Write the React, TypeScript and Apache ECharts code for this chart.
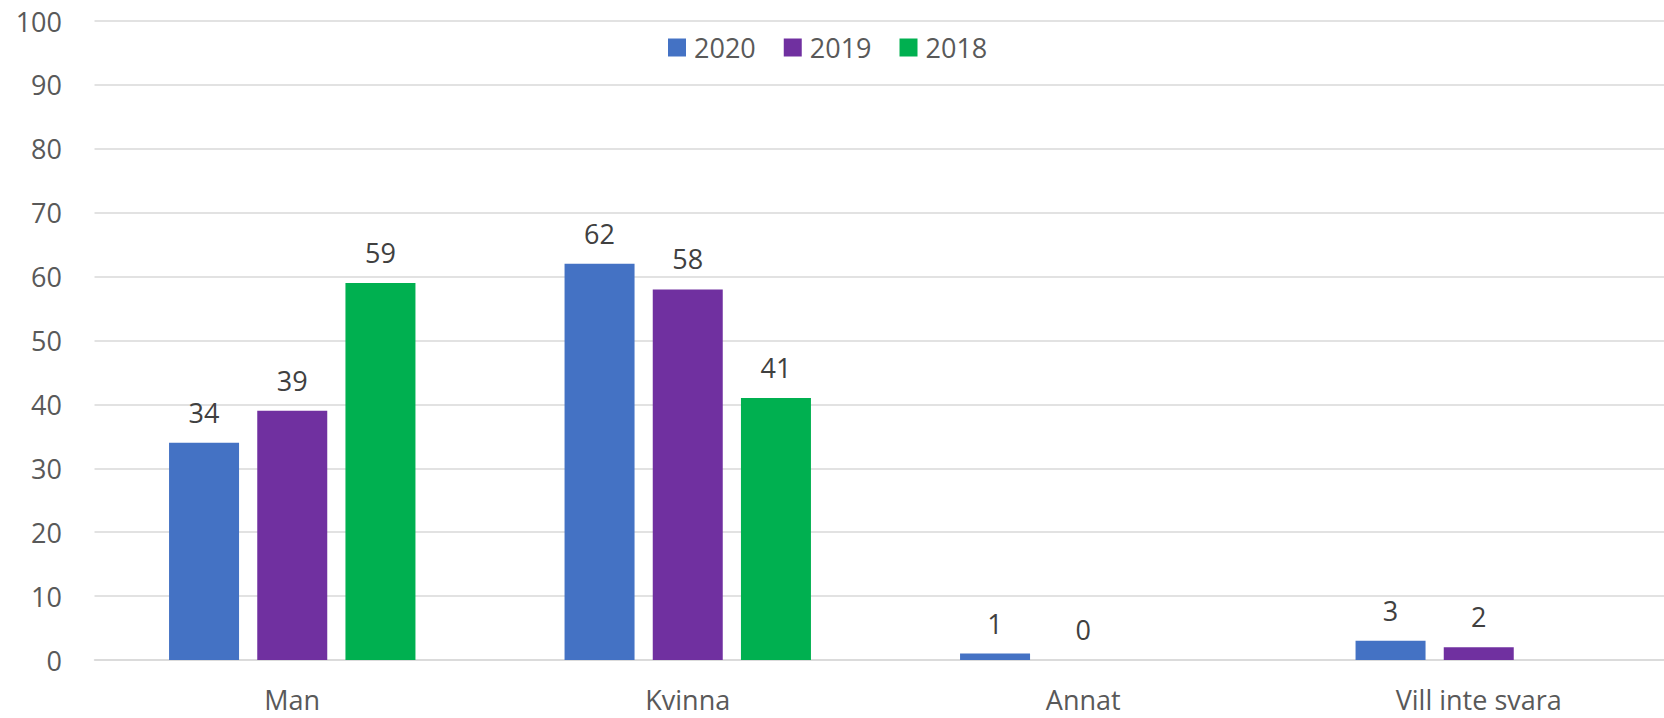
import React, { useEffect, useRef } from "react";
import * as echarts from "echarts";

const categories = ["Man", "Kvinna", "Annat", "Vill inte svara"];
const seriesNames = ["2020", "2019", "2018"];
const values2020 = [34, 62, 1, 3];
const values2019 = [39, 58, 0, 2];
const values2018: (number | null)[] = [59, 41, null, null];
const colors = ["#4472C4", "#7030A0", "#00B050"];

const FONT = "Open Sans";

export default function App() {
  const ref = useRef<HTMLDivElement>(null);
  useEffect(() => {
    if (!ref.current) return;
    const chart = echarts.init(ref.current, null, { renderer: "svg" });
    const data = [values2020, values2019, values2018];
    chart.setOption({
      animation: false,
      backgroundColor: "#ffffff",
      textStyle: { fontFamily: FONT },
      legend: {
        top: 34,
        left: 668,
        itemWidth: 18,
        itemHeight: 18,
        itemGap: 28,
        icon: "rect",
        padding: 0,
        textStyle: {
          fontFamily: FONT,
          fontSize: 27,
          color: "#595959",
          padding: [0, 0, 0, 3],
        },
        data: seriesNames,
      },
      grid: {
        left: 94.5,
        right: -12.5,
        top: 21,
        bottom: 58,
        containLabel: false,
        outerBoundsMode: "none",
      },
      xAxis: {
        type: "category",
        data: categories,
        axisLine: { show: true, lineStyle: { color: "#d9d9d9", width: 1.5 } },
        axisTick: { show: false },
        axisLabel: {
          fontFamily: FONT,
          fontSize: 27,
          color: "#595959",
          margin: 26,
        },
      },
      yAxis: {
        type: "value",
        min: 0,
        max: 100,
        interval: 10,
        axisLine: { show: false },
        axisTick: { show: false },
        splitLine: { lineStyle: { color: "#d9d9d9", width: 1.5 } },
        axisLabel: {
          fontFamily: FONT,
          fontSize: 27,
          color: "#595959",
          margin: 32.5,
        },
      },
      series: seriesNames.map((name, i) => ({
        name,
        type: "bar",
        data: data[i],
        barWidth: 70,
        barGap: "26%",
        itemStyle: { color: colors[i] },
        label: {
          show: true,
          position: "top",
          distance: 17,
          fontFamily: FONT,
          fontSize: 27,
          color: "#404040",
        },
      })),
    });
    return () => chart.dispose();
  }, []);
  return (
    <div
      ref={ref}
      style={{ position: "fixed", left: 0, top: 0, width: 1664, height: 718 }}
    />
  );
}
